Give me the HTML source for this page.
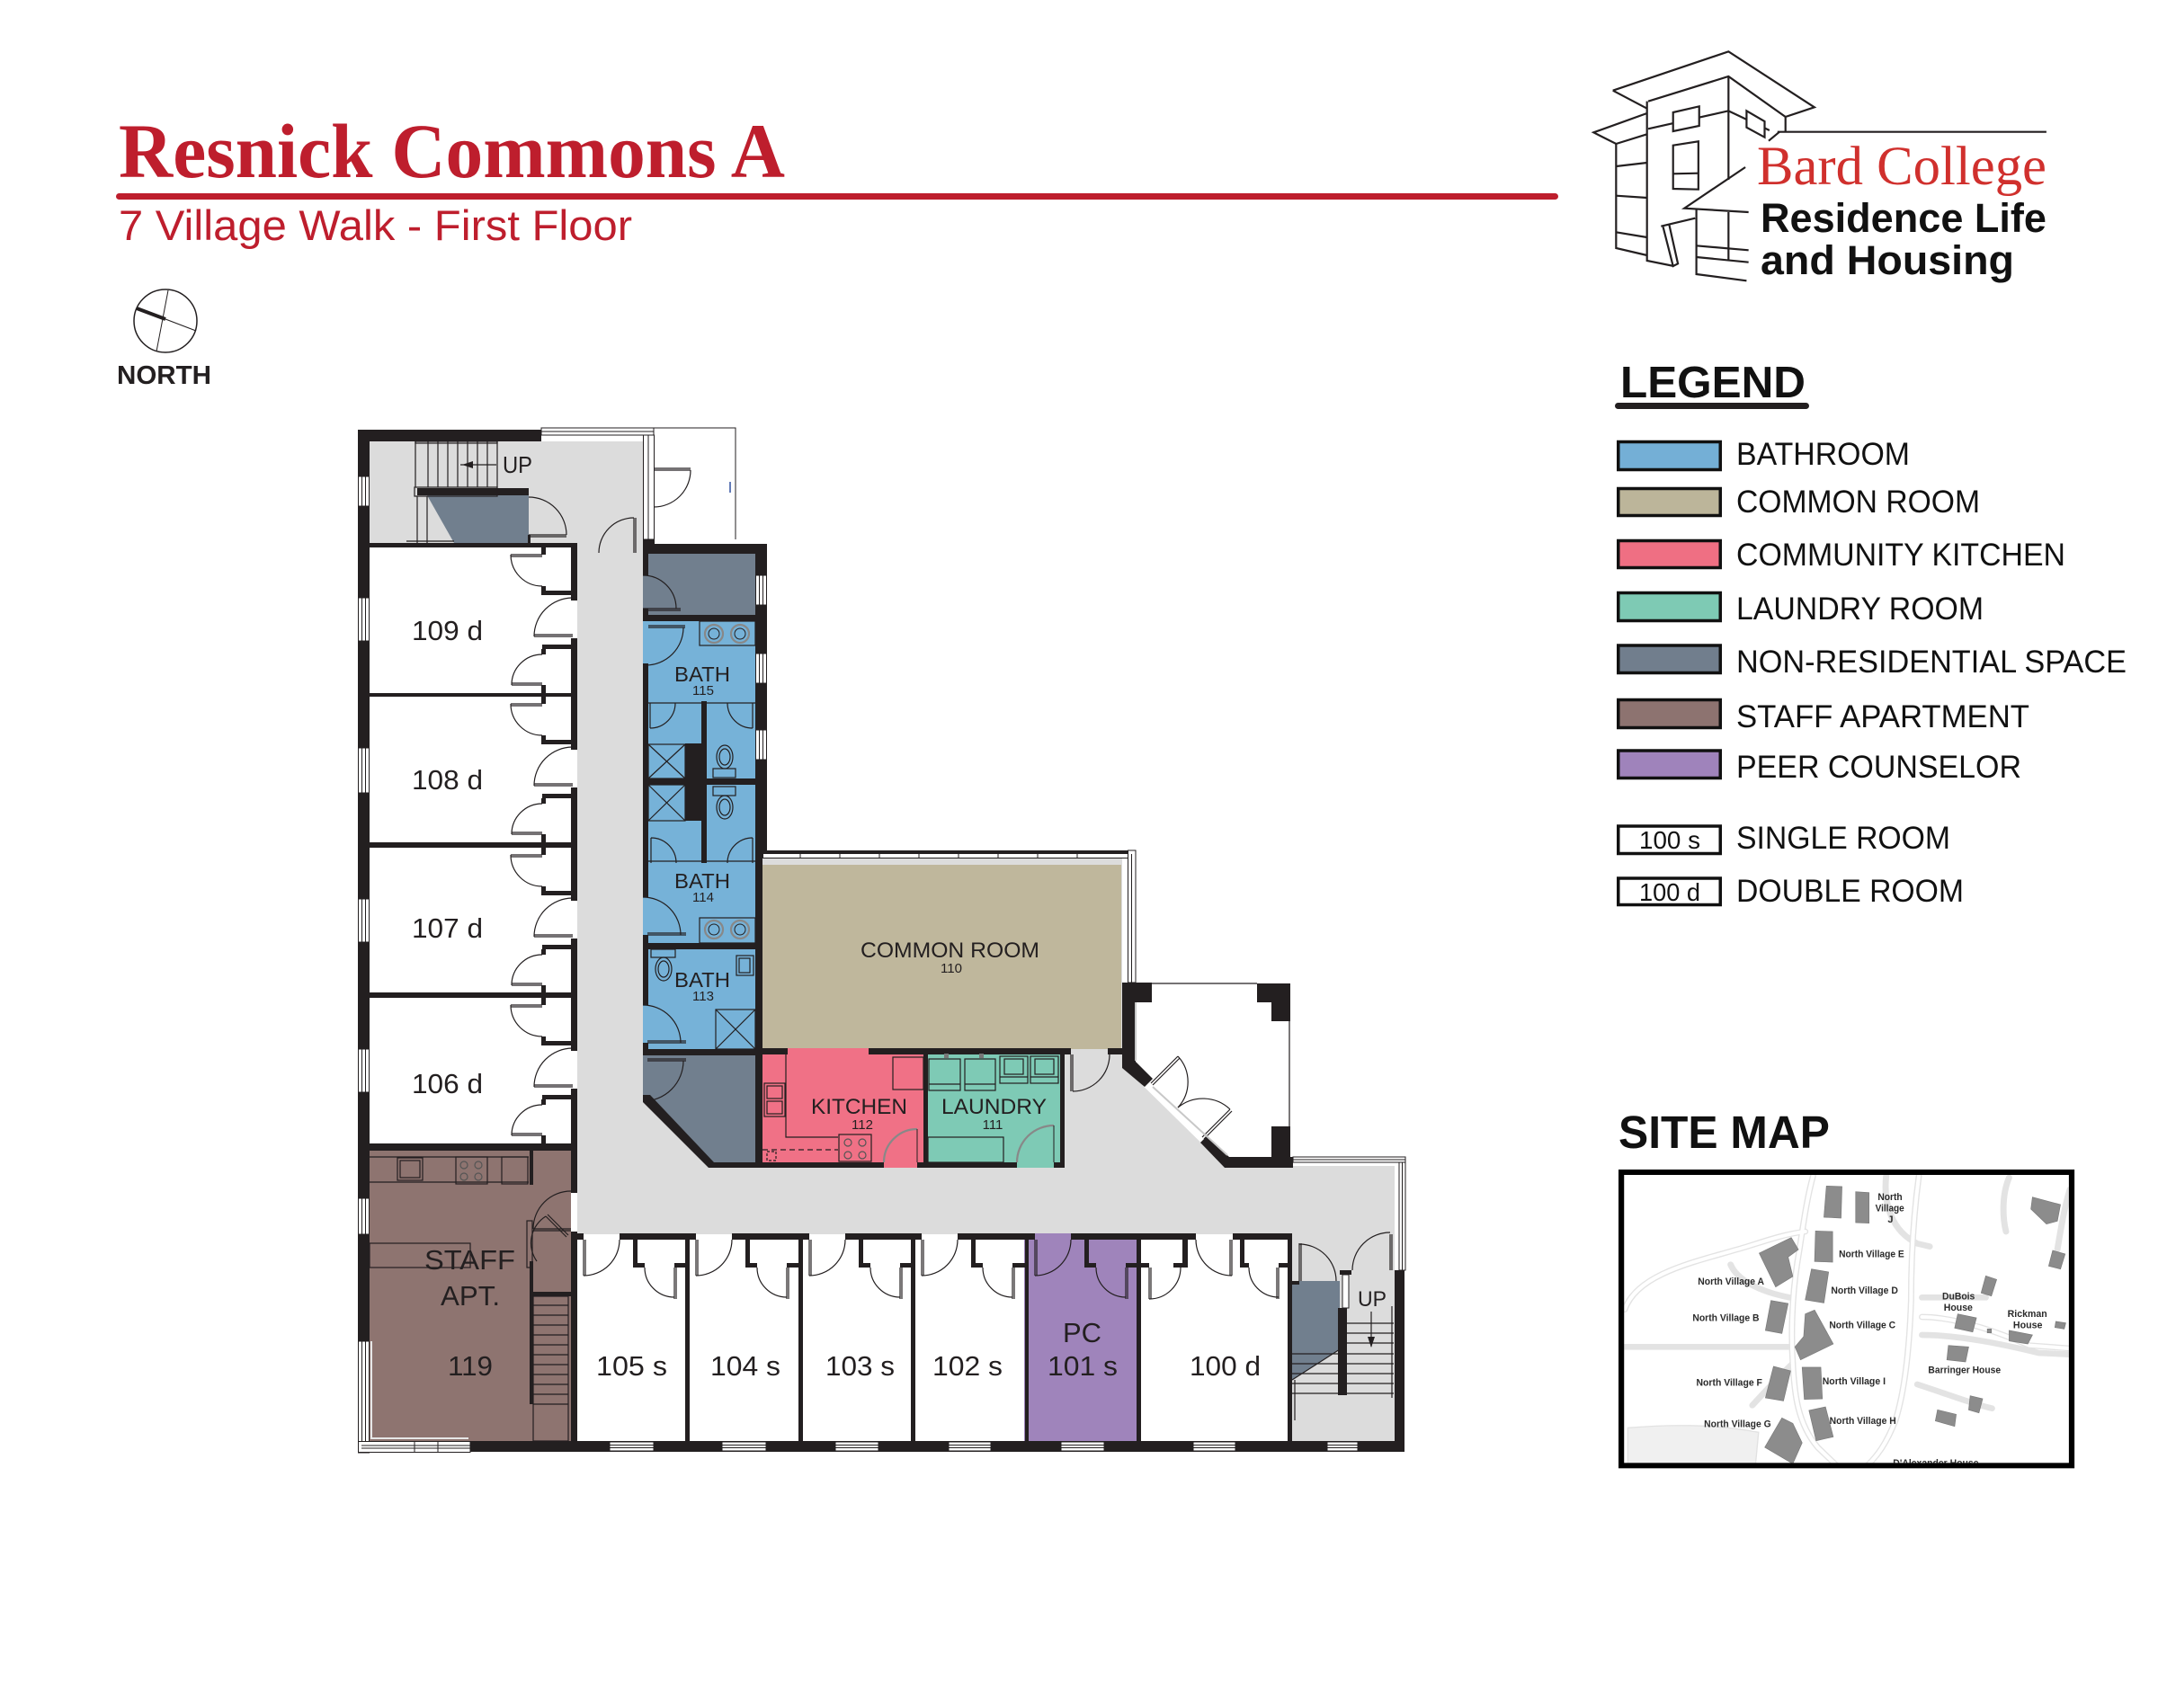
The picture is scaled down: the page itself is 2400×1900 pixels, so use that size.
<!DOCTYPE html>
<html><head><meta charset="utf-8"><style>
html,body{margin:0;padding:0;background:#fff;}
svg{display:block;}
text{font-family:"Liberation Sans",Arial,sans-serif;}
.lg path{vector-effect:non-scaling-stroke;}
</style></head><body>
<svg xmlns="http://www.w3.org/2000/svg" width="2400" height="1900" viewBox="0 0 2400 1900">
<rect width="2400" height="1900" fill="#fff"/>

<!-- HEADER -->
<text x="132" y="197" style="font-family:'Liberation Serif',serif" font-weight="bold" font-size="86" fill="#be1e2d" textLength="741" lengthAdjust="spacingAndGlyphs">Resnick Commons A</text>
<rect x="129" y="215" width="1604" height="7" rx="3.5" fill="#be1e2d"/>
<text x="132" y="267" font-size="47" fill="#be1e2d" textLength="571" lengthAdjust="spacingAndGlyphs">7 Village Walk - First Floor</text>

<!-- compass -->
<circle cx="184" cy="357" r="35" fill="none" stroke="#231f20" stroke-width="1.5"/>
<line x1="187" y1="323" x2="174" y2="391" stroke="#231f20" stroke-width="1"/>
<line x1="152" y1="343" x2="184" y2="355" stroke="#231f20" stroke-width="4"/>
<line x1="184" y1="355" x2="218" y2="368" stroke="#231f20" stroke-width="1.2"/>
<text x="130" y="427" font-weight="bold" font-size="29" fill="#231f20" textLength="105" lengthAdjust="spacingAndGlyphs">NORTH</text>

<!-- LOGO -->
<g class="lg" transform="translate(1700,0) scale(0.44643,0.33333)" fill="none" stroke="#231f20" stroke-width="2.2">
<path d="M210,302 L498,172 L712,358 L640,390 L640,440"/>
<path d="M210,302 L295,362"/>
<path d="M298,338 L498,255 L640,390"/>
<path d="M498,255 L498,600"/>
<path d="M295,338 L295,870 L362,888"/>
<path d="M295,378 L162,442 L218,480 L295,448"/>
<path d="M218,480 L218,828 L295,852"/>
<path d="M218,555 L295,543"/><path d="M218,653 L295,660"/><path d="M218,775 L295,792"/>
<path d="M298,430 L498,370"/>
<path d="M360,375 L425,355 L425,420 L360,438 Z" fill="#fff"/>
<path d="M360,485 L423,472 L423,632 L360,630 Z" fill="#fff"/>
<path d="M360,580 L423,578"/>
<path d="M498,370 L600,435"/>
<path d="M543,370 L588,405 L588,458 L543,425 Z" fill="#fff"/>
<path d="M598,470 L625,440"/>
<path d="M620,440 L1290,440"/>
<path d="M540,558 L388,695 L548,708"/>
<path d="M418,700 L418,915 L543,937"/>
<path d="M498,708 L498,870"/>
<path d="M418,820 L548,835"/><path d="M418,858 L548,875"/>
<path d="M330,755 L415,728"/>
<path d="M335,757 L360,888 L372,880 L350,748"/>
</g>
<text x="1954" y="205" style="font-family:'Liberation Serif',serif" font-size="61" fill="#d0302d" textLength="322" lengthAdjust="spacingAndGlyphs">Bard College</text>
<text x="1958" y="258" font-weight="bold" font-size="45" fill="#111" textLength="318" lengthAdjust="spacingAndGlyphs">Residence Life</text>
<text x="1958" y="305" font-weight="bold" font-size="45" fill="#111" textLength="282" lengthAdjust="spacingAndGlyphs">and Housing</text>

<!-- LEGEND -->
<text x="1802" y="442" font-weight="bold" font-size="49" fill="#111" textLength="206" lengthAdjust="spacingAndGlyphs">LEGEND</text>
<rect x="1796" y="448" width="216" height="7" rx="3.5" fill="#231f20"/>
<g stroke="#111" stroke-width="3.5">
<rect x="1799.75" y="491.5" width="113.5" height="31" fill="#74afd6"/>
<rect x="1799.75" y="543.5" width="113.5" height="30" fill="#bcb59a"/>
<rect x="1799.75" y="601.5" width="113.5" height="30" fill="#ef6f83"/>
<rect x="1799.75" y="659.5" width="113.5" height="31" fill="#7ecab4"/>
<rect x="1799.75" y="718" width="113.5" height="30.5" fill="#717e8d"/>
<rect x="1799.75" y="778.5" width="113.5" height="31" fill="#8d7370"/>
<rect x="1799.75" y="835" width="113.5" height="30.5" fill="#9f83bb"/>
<rect x="1799.75" y="919" width="113.5" height="30.5" fill="#fff"/>
<rect x="1799.75" y="977" width="113.5" height="29.5" fill="#fff"/>
</g>
<g font-size="35" fill="#111">
<text x="1931" y="517" textLength="193" lengthAdjust="spacingAndGlyphs">BATHROOM</text>
<text x="1931" y="570" textLength="271" lengthAdjust="spacingAndGlyphs">COMMON ROOM</text>
<text x="1931" y="629" textLength="366" lengthAdjust="spacingAndGlyphs">COMMUNITY KITCHEN</text>
<text x="1931" y="689" textLength="275" lengthAdjust="spacingAndGlyphs">LAUNDRY ROOM</text>
<text x="1931" y="748" textLength="434" lengthAdjust="spacingAndGlyphs">NON-RESIDENTIAL SPACE</text>
<text x="1931" y="809" textLength="326" lengthAdjust="spacingAndGlyphs">STAFF APARTMENT</text>
<text x="1931" y="865" textLength="317" lengthAdjust="spacingAndGlyphs">PEER COUNSELOR</text>
<text x="1931" y="944" textLength="238" lengthAdjust="spacingAndGlyphs">SINGLE ROOM</text>
<text x="1931" y="1003" textLength="253" lengthAdjust="spacingAndGlyphs">DOUBLE ROOM</text>
</g>
<text x="1823" y="944" font-size="28" fill="#111" textLength="68" lengthAdjust="spacingAndGlyphs">100 s</text>
<text x="1823" y="1002" font-size="28" fill="#111" textLength="68" lengthAdjust="spacingAndGlyphs">100 d</text>

<!-- SITE MAP -->
<text x="1800" y="1277" font-weight="bold" font-size="51" fill="#111" textLength="235" lengthAdjust="spacingAndGlyphs">SITE MAP</text>
<svg x="1800" y="1230" width="540" height="440" viewBox="0 0 1560 1320" preserveAspectRatio="none">
<defs><clipPath id="mc"><rect x="18" y="231" width="1429" height="961"/></clipPath></defs>
<g clip-path="url(#mc)">
<rect x="18" y="231" width="1429" height="961" fill="#fff"/>
<path d="M30,1075 C150,1065 300,1060 450,1090 L440,1200 L30,1200 Z" fill="#f0f0f0" stroke="#e2e2e2" stroke-width="4"/>
<g fill="none" stroke="#e3e3e3" stroke-width="20" stroke-linecap="round">
<path d="M965,235 C950,350 940,500 940,650 C935,800 920,950 890,1050 C860,1130 830,1170 800,1200"/>
<path d="M625,235 C600,330 590,430 575,520 C555,650 555,780 560,860 C565,960 575,1060 640,1140 L700,1200"/>
<path d="M20,680 C60,560 250,520 380,480 C450,460 520,430 600,420"/>
<path d="M10,805 L560,805"/>
<path d="M860,235 C850,330 880,420 960,460 L1000,470"/>
<path d="M975,640 L1180,640"/>
<path d="M975,705 C1100,705 1250,770 1320,800 L1450,810"/>
<path d="M975,765 C1100,765 1250,800 1350,825 L1450,830"/>
<path d="M1255,240 C1230,300 1235,380 1245,420"/>
<path d="M1450,280 C1430,350 1420,420 1410,480"/>
<path d="M430,1000 C500,920 540,880 560,860"/>
<path d="M960,930 C1050,960 1150,1000 1200,1010"/>
<path d="M360,530 C380,580 450,620 550,640"/>
</g>
<g fill="none" stroke="#fff" stroke-width="12" stroke-linecap="round">
<path d="M965,235 C950,350 940,500 940,650 C935,800 920,950 890,1050 C860,1130 830,1170 800,1200"/>
<path d="M625,235 C600,330 590,430 575,520 C555,650 555,780 560,860 C565,960 575,1060 640,1140 L700,1200"/>
<path d="M20,680 C60,560 250,520 380,480 C450,460 520,430 600,420"/>
<path d="M975,705 C1100,705 1250,770 1320,800 L1450,810"/>
</g>
<g fill="#8c8c8c" stroke="#7a7a7a" stroke-width="2">
<polygon points="668,268 718,270 715,375 660,372"/>
<polygon points="762,287 805,290 805,392 762,390"/>
<polygon points="633,418 688,420 688,522 630,520"/>
<polygon points="452,492 555,440 578,480 545,505 560,570 505,605"/>
<polygon points="620,545 675,555 660,658 600,648"/>
<polygon points="490,650 545,660 525,760 472,750"/>
<polygon points="600,695 630,682 690,795 585,848 567,805 595,770"/>
<polygon points="498,870 553,885 530,985 472,975"/>
<polygon points="590,873 650,873 655,978 597,980"/>
<polygon points="612,1017 665,1005 690,1105 635,1118"/>
<polygon points="525,1042 560,1060 590,1125 560,1195 470,1140"/>
<polygon points="1330,305 1420,330 1410,385 1375,395 1325,345"/>
<polygon points="1395,483 1435,495 1420,545 1382,535"/>
<polygon points="1180,568 1215,580 1198,635 1165,625"/>
<polygon points="1090,695 1150,708 1138,755 1080,742"/>
<polygon points="1255,750 1330,765 1315,795 1255,785"/>
<polygon points="1405,720 1437,725 1432,745 1402,740"/>
<polygon points="1060,800 1125,805 1115,855 1055,848"/>
<polygon points="1130,968 1170,978 1158,1025 1125,1015"/>
<polygon points="1025,1015 1085,1030 1080,1070 1018,1052"/>
<rect x="1185" y="745" width="13" height="13"/>
</g>
<g font-weight="bold" font-size="32" fill="#2a2a2a" lengthAdjust="spacingAndGlyphs">
<text x="833" y="315" textLength="79" lengthAdjust="spacingAndGlyphs">North</text>
<text x="825" y="353" textLength="93" lengthAdjust="spacingAndGlyphs">Village</text>
<text x="865" y="390">J</text>
<text x="708" y="505" textLength="210" lengthAdjust="spacingAndGlyphs">North Village E</text>
<text x="255" y="597" textLength="213" lengthAdjust="spacingAndGlyphs">North Village A</text>
<text x="683" y="627" textLength="215" lengthAdjust="spacingAndGlyphs">North Village D</text>
<text x="238" y="718" textLength="214" lengthAdjust="spacingAndGlyphs">North Village B</text>
<text x="677" y="743" textLength="213" lengthAdjust="spacingAndGlyphs">North Village C</text>
<text x="250" y="935" textLength="212" lengthAdjust="spacingAndGlyphs">North Village F</text>
<text x="655" y="930" textLength="203" lengthAdjust="spacingAndGlyphs">North Village I</text>
<text x="275" y="1073" textLength="215" lengthAdjust="spacingAndGlyphs">North Village G</text>
<text x="678" y="1062" textLength="214" lengthAdjust="spacingAndGlyphs">North Village H</text>
<text x="1040" y="647" textLength="105" lengthAdjust="spacingAndGlyphs">DuBois</text>
<text x="1045" y="684" textLength="93" lengthAdjust="spacingAndGlyphs">House</text>
<text x="1250" y="705" textLength="127" lengthAdjust="spacingAndGlyphs">Rickman</text>
<text x="1268" y="742" textLength="94" lengthAdjust="spacingAndGlyphs">House</text>
<text x="995" y="893" textLength="233" lengthAdjust="spacingAndGlyphs">Barringer House</text>
<text x="882" y="1203" textLength="275" lengthAdjust="spacingAndGlyphs">D'Alexander House</text>
</g>
</g>
<rect x="9" y="222" width="1447" height="979" fill="none" stroke="#000" stroke-width="18"/>
</svg>

<!-- ================= FLOOR PLAN ================= -->
<!-- corridor gray -->
<g fill="#dcdcdc">
<rect x="411" y="491" width="304" height="118"/>
<rect x="642" y="600" width="73" height="773"/>
<rect x="642" y="1174" width="206" height="199"/>
<rect x="642" y="1297" width="909" height="76"/>
<rect x="1184" y="1166" width="64" height="133"/>
<polygon points="1248,1185 1364,1299 1248,1299"/>
<rect x="1437" y="1373" width="114" height="230"/>
</g>
<!-- colored rooms -->
<polygon points="475,551 588,551 588,604 505,604" fill="#717f8e"/>
<rect x="715" y="616" width="125" height="68" fill="#717f8e"/>
<rect x="715" y="684" width="125" height="490" fill="#76b2d8"/>
<polygon points="715,1174 840,1174 840,1293 790,1293 721,1222 715,1222" fill="#717f8e"/>
<rect x="848" y="955" width="400" height="212" fill="#dcdcdc"/>
<rect x="848" y="962" width="399" height="205" fill="#bfb79c"/>
<rect x="848" y="1166" width="179" height="133" fill="#f07186"/>
<rect x="1032" y="1173" width="147" height="126" fill="#7ecab5"/>
<rect x="411" y="1280" width="224" height="323" fill="#8e7470"/>
<rect x="1139" y="1372" width="130" height="231" fill="#9f84bb"/>
<polygon points="1437,1425 1490,1425 1490,1501 1437,1535" fill="#717f8e"/>

<!-- thick walls -->
<g fill="#231f20">
<rect x="398" y="478" width="13" height="1014"/>
<rect x="398" y="478" width="204" height="13"/>
<rect x="464" y="543" width="124" height="8"/>
<rect x="411" y="604" width="231" height="5"/>
<rect x="587" y="595" width="3" height="9"/>
<rect x="715" y="600" width="13" height="16"/>
<!-- left room separators -->
<rect x="411" y="771" width="231" height="4"/>
<rect x="411" y="937" width="231" height="6"/>
<rect x="411" y="1104" width="231" height="6"/>
<rect x="398" y="1272" width="244" height="8"/>
<!-- corridor-side walls of left rooms -->
<rect x="635" y="604" width="7" height="64"/><rect x="635" y="710" width="7" height="61"/>
<rect x="635" y="770" width="7" height="64"/><rect x="635" y="876" width="7" height="61"/>
<rect x="635" y="938" width="7" height="64"/><rect x="635" y="1044" width="7" height="61"/>
<rect x="635" y="1105" width="7" height="64"/><rect x="635" y="1211" width="7" height="61"/>
<!-- closets left rooms -->
<rect x="602" y="609" width="5" height="8"/><rect x="602" y="652" width="5" height="10"/><rect x="602" y="657" width="33" height="5"/>
<rect x="603" y="717" width="32" height="5"/><rect x="602" y="722" width="5" height="6"/><rect x="602" y="762" width="5" height="9"/>
<rect x="602" y="775" width="5" height="8"/><rect x="602" y="818" width="5" height="10"/><rect x="602" y="823" width="33" height="5"/>
<rect x="603" y="883" width="32" height="5"/><rect x="602" y="888" width="5" height="6"/><rect x="602" y="928" width="5" height="9"/>
<rect x="602" y="943" width="5" height="8"/><rect x="602" y="986" width="5" height="10"/><rect x="602" y="991" width="33" height="5"/>
<rect x="603" y="1051" width="32" height="5"/><rect x="602" y="1056" width="5" height="6"/><rect x="602" y="1096" width="5" height="8"/>
<rect x="602" y="1110" width="5" height="8"/><rect x="602" y="1153" width="5" height="10"/><rect x="602" y="1158" width="33" height="5"/>
<rect x="603" y="1218" width="32" height="5"/><rect x="602" y="1223" width="5" height="6"/><rect x="602" y="1263" width="5" height="9"/>
<!-- bath block -->
<rect x="715" y="605" width="138" height="11"/>
<rect x="840" y="605" width="13" height="342"/>
<rect x="840" y="947" width="8" height="352"/>
<rect x="715" y="605" width="6" height="35"/>
<rect x="715" y="677" width="6" height="14"/>
<rect x="715" y="738" width="6" height="260"/>
<rect x="715" y="1040" width="6" height="78"/>
<rect x="715" y="1160" width="6" height="14"/>
<rect x="721" y="684" width="119" height="7"/>
<rect x="721" y="866" width="119" height="7"/>
<rect x="721" y="1049" width="119" height="7"/>
<rect x="715" y="1167" width="133" height="7"/>
<polygon points="715,1218 723,1218 794,1293 848,1293 848,1299 788,1299 715,1226"/>
<rect x="762" y="827" width="24" height="86"/>
<rect x="780" y="780" width="6" height="47"/>
<rect x="780" y="913" width="6" height="47"/>
<!-- kitchen / laundry -->
<rect x="840" y="1166" width="36" height="7"/>
<rect x="966" y="1166" width="225" height="7"/>
<rect x="1232" y="1166" width="16" height="7"/>
<rect x="1027" y="1173" width="5" height="120"/>
<rect x="1179" y="1173" width="5" height="126"/>
<rect x="840" y="1293" width="143" height="6"/>
<rect x="1020" y="1293" width="111" height="6"/>
<rect x="1172" y="1293" width="12" height="6"/>
<!-- common room top -->
<rect x="848" y="946" width="415" height="4"/>
<!-- vestibule -->
<rect x="1248" y="1093" width="15" height="94"/>
<rect x="1263" y="1093" width="18" height="22"/>
<rect x="1398" y="1094" width="37" height="21"/>
<rect x="1414" y="1115" width="21" height="21"/>
<rect x="1414" y="1253" width="21" height="34"/>
<polygon points="1248,1180 1262,1180 1282,1200 1273,1209 1248,1188"/>
<polygon points="1335,1271 1362,1299 1438,1299 1438,1287 1367,1287 1342,1264"/>
<!-- staff apt walls -->
<rect x="635" y="1280" width="7" height="47"/>
<rect x="635" y="1370" width="7" height="233"/>
<rect x="589" y="1280" width="4" height="38"/>
<rect x="589" y="1403" width="4" height="37"/>
<rect x="589" y="1437" width="46" height="5"/>
<rect x="589" y="1442" width="4" height="120"/>
<!-- bottom rooms top wall -->
<rect x="635" y="1372" width="14" height="7"/>
<rect x="689" y="1372" width="85" height="7"/>
<rect x="814" y="1372" width="86" height="7"/>
<rect x="940" y="1372" width="85" height="7"/>
<rect x="1065" y="1372" width="86" height="7"/>
<rect x="1191" y="1372" width="139" height="7"/>
<rect x="1371" y="1372" width="66" height="7"/>
<!-- dividers -->
<rect x="762" y="1379" width="5" height="224"/>
<rect x="888" y="1379" width="5" height="224"/>
<rect x="1013" y="1379" width="5" height="224"/>
<rect x="1140" y="1379" width="4" height="224"/>
<rect x="1264" y="1379" width="5" height="224"/>
<rect x="1432" y="1379" width="5" height="224"/>
<!-- bottom room closets -->
<rect x="704" y="1379" width="5" height="31"/><rect x="704" y="1405" width="13" height="5"/><rect x="750" y="1405" width="12" height="5"/>
<rect x="829" y="1379" width="5" height="31"/><rect x="829" y="1405" width="13" height="5"/><rect x="875" y="1405" width="13" height="5"/>
<rect x="955" y="1379" width="5" height="31"/><rect x="955" y="1405" width="13" height="5"/><rect x="1001" y="1405" width="12" height="5"/>
<rect x="1080" y="1379" width="5" height="31"/><rect x="1080" y="1405" width="13" height="5"/><rect x="1126" y="1405" width="14" height="5"/>
<rect x="1206" y="1379" width="5" height="31"/><rect x="1206" y="1405" width="13" height="5"/><rect x="1252" y="1405" width="12" height="5"/>
<rect x="1269" y="1405" width="9" height="5"/><rect x="1315" y="1379" width="6" height="31"/><rect x="1305" y="1405" width="16" height="5"/>
<rect x="1379" y="1379" width="5" height="31"/><rect x="1379" y="1405" width="10" height="5"/><rect x="1422" y="1405" width="10" height="5"/>
<!-- right stair -->
<rect x="1437" y="1425" width="8" height="4"/>
<rect x="1490" y="1413" width="13" height="5"/>
<rect x="1488" y="1455" width="10" height="97"/>
<rect x="1551" y="1413" width="11" height="202"/>
<!-- bottom wall -->
<rect x="523" y="1603" width="1039" height="12"/>
</g>

<!-- windows -->
<g fill="#fff" stroke="#231f20" stroke-width="1">
<rect x="398.5" y="530" width="12" height="33"/>
<rect x="398.5" y="665" width="12" height="48"/>
<rect x="398.5" y="832" width="12" height="50"/>
<rect x="398.5" y="1000" width="12" height="48"/>
<rect x="398.5" y="1167" width="12" height="48"/>
<rect x="398.5" y="1333" width="12" height="40"/>
<rect x="398.5" y="1492" width="12" height="124"/>
<rect x="398.5" y="1603.5" width="124.5" height="12"/>
<rect x="840.5" y="640" width="12" height="33"/>
<rect x="840.5" y="727" width="12" height="33"/>
<rect x="840.5" y="812" width="12" height="33"/>
<rect x="678" y="1604" width="49" height="10"/>
<rect x="803" y="1604" width="49" height="10"/>
<rect x="929" y="1604" width="48" height="10"/>
<rect x="1055" y="1604" width="47" height="10"/>
<rect x="1180" y="1604" width="48" height="10"/>
<rect x="1327" y="1604" width="47" height="10"/>
<rect x="1476" y="1604" width="34" height="10"/>
<rect x="602" y="476" width="125" height="8"/>
<rect x="715.5" y="484" width="12" height="116"/>
<rect x="848.5" y="949.5" width="413" height="5"/>
<rect x="1254.5" y="946" width="8.5" height="147"/>
<rect x="1438" y="1287" width="125" height="6"/>
<rect x="1556" y="1293" width="7" height="120"/>
<rect x="1493" y="1418" width="7" height="37"/>
</g>
<g stroke="#231f20" stroke-width="1" fill="none">
<path d="M402.5,530V563M406.5,530V563M402.5,665V713M406.5,665V713M402.5,832V882M406.5,832V882M402.5,1000V1048M406.5,1000V1048M402.5,1167V1215M406.5,1167V1215M402.5,1333V1373M406.5,1333V1373M402.5,1492V1603M406.5,1492V1603"/>
<path d="M402,1608H523M402,1611H523M461,1603V1615M487,1603V1615"/>
<path d="M844.5,640V673M848.5,640V673M844.5,727V760M848.5,727V760M844.5,812V845M848.5,812V845"/>
<path d="M678,1607.5H727M678,1610.5H727M803,1607.5H852M803,1610.5H852M929,1607.5H977M929,1610.5H977M1055,1607.5H1102M1055,1610.5H1102M1180,1607.5H1228M1180,1610.5H1228M1327,1607.5H1374M1327,1610.5H1374M1476,1607.5H1510M1476,1610.5H1510"/>
<path d="M602,480H727M721,484V600"/>
<path d="M890,950V955M934,950V955M978,950V955M1022,950V955M1066,950V955M1110,950V955M1154,950V955M1198,950V955"/>
<path d="M1258.5,950V1093"/>
<path d="M1438,1290H1563M1559.5,1293V1413"/>
<path d="M727,476H818V600"/>
</g>
<rect x="848" y="955" width="399" height="7" fill="#dcdcdc"/>
<line x1="812" y1="536" x2="812" y2="548" stroke="#3050a0" stroke-width="1.5"/>

<!-- thin line details -->
<g stroke="#231f20" stroke-width="1.2" fill="none">
<!-- top stair -->
<path d="M462,491V542M476,491V542M487,491V542M498,491V542M509,491V542M520,491V542M531,491V542M542,491V542M553,491V542"/>
<rect x="462" y="491" width="91" height="2"/>
<rect x="461" y="542" width="92" height="10"/>
<path d="M464,552V604M475,552V604M452,602H505"/>
<path d="M512,517H552"/>
<path d="M588,553A42,42 0 0 1 630,595"/><path d="M588,595H630M588,597H630"/>
<path d="M666,615A39,39 0 0 1 705,576"/><path d="M705,576V615M707,576V615"/>
<path d="M727,521H768M727,523H768"/><path d="M768,523A41,41 0 0 1 727,564"/>
<!-- left rooms doors -->
<path d="M568,617A35,35 0 0 0 603,652M568,617H603M568,619H603"/>
<path d="M594,708A43,43 0 0 1 637,665M594,708H637M594,706H637"/>
<path d="M603,728A34,34 0 0 0 569,762M569,762H603M569,760H603"/>
<path d="M568,783A35,35 0 0 0 603,818M568,783H603M568,785H603"/>
<path d="M594,874A43,43 0 0 1 637,831M594,874H637M594,872H637"/>
<path d="M603,894A34,34 0 0 0 569,928M569,928H603M569,926H603"/>
<path d="M568,951A35,35 0 0 0 603,986M568,951H603M568,953H603"/>
<path d="M594,1042A43,43 0 0 1 637,999M594,1042H637M594,1040H637"/>
<path d="M603,1062A34,34 0 0 0 569,1096M569,1096H603M569,1094H603"/>
<path d="M568,1118A35,35 0 0 0 603,1153M568,1118H603M568,1120H603"/>
<path d="M594,1209A43,43 0 0 1 637,1166M594,1209H637M594,1207H637"/>
<path d="M603,1229A34,34 0 0 0 569,1263M569,1263H603M569,1261H603"/>
<!-- bath doors -->
<path d="M715,640A37,37 0 0 1 752,677M715,677H757M715,679H757"/>
<path d="M760,698A42,42 0 0 1 718,740M721,698H762M721,696H762"/>
<path d="M715,998A42,42 0 0 1 757,1040M720,1040H763M720,1038H763"/>
<path d="M715,1118A42,42 0 0 1 757,1160M720,1160H763M720,1158H763"/>
<path d="M760,1180A45,45 0 0 1 715,1225M720,1180H763M720,1178H763"/>
<!-- bath fixtures -->
<rect x="778" y="691" width="62" height="27"/>
<rect x="778" y="1021" width="62" height="28"/>
<path d="M721,782H780M786,782H840M751,782A28,28 0 0 1 723,810M723,782V810M809,782A28,28 0 0 0 837,810M837,782V810"/>
<path d="M721,958H780M786,958H840M724,932A28,28 0 0 1 752,960M724,932V960M837,932A28,28 0 0 0 809,960M837,932V960"/>
<rect x="721" y="828" width="41" height="38"/><path d="M721,828L762,866M762,828L721,866"/>
<rect x="721" y="873" width="41" height="40"/><path d="M721,873L762,913M762,873L721,913"/>
<rect x="793" y="855" width="25" height="10"/><ellipse cx="806" cy="842" rx="9" ry="13"/><ellipse cx="806" cy="842" rx="6" ry="9"/>
<rect x="793" y="875" width="25" height="10"/><ellipse cx="806" cy="898" rx="9" ry="13"/><ellipse cx="806" cy="898" rx="6" ry="9"/>
<rect x="724" y="1056" width="27" height="9"/><ellipse cx="738" cy="1078" rx="9" ry="13"/><ellipse cx="738" cy="1078" rx="6" ry="9"/>
<rect x="819" y="1063" width="19" height="22"/><rect x="822" y="1066" width="12" height="16"/>
<rect x="796" y="1123" width="44" height="44"/><path d="M796,1123L840,1167M840,1123L796,1167"/>
<!-- kitchen -->
<rect x="993" y="1176" width="34" height="36"/>
<path d="M874,1173V1265H932"/>
<rect x="850" y="1205" width="23" height="37"/>
<rect x="853" y="1208" width="17" height="14"/><rect x="853" y="1225" width="17" height="14"/>
<rect x="933" y="1262" width="36" height="30"/>
<path d="M848,1279H932" stroke-dasharray="6 4"/>
<rect x="853" y="1281" width="10" height="10" stroke-dasharray="3 2"/>
<!-- laundry -->
<rect x="1033" y="1178" width="35" height="35"/><rect x="1073" y="1178" width="34" height="35"/>
<rect x="1112" y="1175" width="31" height="30"/><rect x="1146" y="1175" width="31" height="30"/>
<rect x="1117" y="1178" width="21" height="17"/><rect x="1151" y="1178" width="21" height="17"/>
<path d="M1033,1206H1068M1073,1206H1107M1112,1198H1143M1146,1198H1177"/>
<rect x="1032" y="1265" width="84" height="28"/>
<!-- common door -->
<path d="M1193,1214A41,41 0 0 0 1234,1173M1191,1173V1214M1193,1173V1214"/>
<!-- vestibule -->
<path d="M1281,1094H1398M1434,1136V1253"/>
<path d="M1280,1205L1310,1175M1282,1207L1312,1177M1310,1175A42,42 0 0 1 1310,1232"/>
<path d="M1337,1265L1368,1234M1339,1267L1370,1236M1368,1234A44,44 0 0 0 1310,1232"/>
<!-- bottom rooms doors -->
<path d="M649,1379V1419M651,1379V1419M649,1419A40,40 0 0 0 689,1379M717,1410A33,33 0 0 0 750,1443M750,1410V1445M752,1410V1445"/>
<path d="M774,1379V1419M776,1379V1419M774,1419A40,40 0 0 0 814,1379M842,1410A33,33 0 0 0 875,1443M875,1410V1445M877,1410V1445"/>
<path d="M900,1379V1419M902,1379V1419M900,1419A40,40 0 0 0 940,1379M968,1410A33,33 0 0 0 1001,1443M1001,1410V1445M1003,1410V1445"/>
<path d="M1025,1379V1419M1027,1379V1419M1025,1419A40,40 0 0 0 1065,1379M1093,1410A33,33 0 0 0 1126,1443M1126,1410V1445M1128,1410V1445"/>
<path d="M1151,1379V1419M1153,1379V1419M1151,1419A40,40 0 0 0 1191,1379M1219,1410A33,33 0 0 0 1252,1443M1252,1410V1445M1254,1410V1445"/>
<path d="M1278,1410V1445M1280,1410V1445M1278,1445A35,35 0 0 0 1313,1410"/>
<path d="M1330,1379A40,40 0 0 0 1370,1419M1370,1379V1419M1368,1379V1419"/>
<path d="M1389,1410A33,33 0 0 0 1422,1443M1422,1410V1445M1420,1410V1445"/>
<!-- right stair -->
<path d="M1445,1384A41,41 0 0 1 1486,1425M1445,1383V1425M1447,1383V1425"/>
<path d="M1546,1371A42,42 0 0 0 1504,1413M1546,1373V1413M1548,1373V1413"/>
<path d="M1498,1472H1550M1498,1483H1550M1498,1494H1550M1498,1506H1550M1498,1517H1550M1498,1528H1550M1498,1539H1550M1498,1550H1550"/>
<path d="M1437,1506H1488M1437,1517H1488M1437,1528H1488M1437,1539H1488M1437,1550H1488"/>
<path d="M1437,1535L1490,1501"/>
<path d="M1548,1453V1555M1440,1535V1580"/>
<path d="M1525,1459V1498"/>
<!-- staff apt -->
<path d="M411,1287H588M411,1315H588"/>
<rect x="442" y="1288" width="28" height="25"/><rect x="445" y="1291" width="22" height="19"/>
<rect x="507" y="1287" width="35" height="30"/>
<rect x="558" y="1287" width="29" height="30"/>
<path d="M593,1367A42,42 0 0 1 635,1325M593,1367H635M593,1369H635"/>
<path d="M607,1353L630,1376M609,1351L632,1374M607,1353A35,35 0 0 0 597,1403"/>
<rect x="411" y="1383" width="112" height="27"/>
<rect x="593" y="1442" width="39" height="161"/>
<path d="M593,1452H632M593,1463H632M593,1474H632M593,1485H632M593,1496H632M593,1507H632M593,1518H632M593,1529H632M593,1540H632M593,1551H632M593,1562H632"/>
<rect x="586" y="1358" width="6" height="52"/>
</g>
<path d="M413,1492V1600H521" stroke="#e6e6e6" stroke-width="2" fill="none"/>
<path d="M1263,1115V1180M1282,1209L1365,1285" stroke="#c8c8c8" stroke-width="2" fill="none"/>
<!-- fixture circles -->
<g fill="none" stroke="#888" stroke-width="2.2">
<circle cx="794" cy="705" r="10"/><circle cx="823" cy="705" r="10"/>
<circle cx="794" cy="1034" r="10"/><circle cx="823" cy="1034" r="10"/>
<path d="M983,1293A37,37 0 0 1 1020,1256"/>
<path d="M1131,1293A41,41 0 0 1 1172,1252"/>
</g>
<g fill="none" stroke="#231f20" stroke-width="1">
<circle cx="794" cy="705" r="6"/><circle cx="823" cy="705" r="6"/>
<circle cx="794" cy="1034" r="6"/><circle cx="823" cy="1034" r="6"/>
<path d="M1020,1256V1293M1172,1252V1293"/>
</g>
<g fill="none" stroke="#555" stroke-width="1.2">
<circle cx="943" cy="1271" r="4"/><circle cx="959" cy="1271" r="4"/><circle cx="943" cy="1285" r="4"/><circle cx="959" cy="1285" r="4"/>
<circle cx="516" cy="1296" r="4"/><circle cx="532" cy="1296" r="4"/><circle cx="516" cy="1309" r="4"/><circle cx="532" cy="1309" r="4"/>
</g>
<rect x="1050" y="1172" width="5" height="5" fill="#777"/><rect x="1089" y="1172" width="5" height="5" fill="#777"/>
<polygon points="514,517 526,513 526,521" fill="#231f20"/>
<polygon points="1525,1499 1521,1487 1529,1487" fill="#231f20"/>

<!-- room labels -->
<g font-size="31" fill="#231f20">
<text x="458" y="712" textLength="79" lengthAdjust="spacingAndGlyphs">109 d</text>
<text x="458" y="878" textLength="79" lengthAdjust="spacingAndGlyphs">108 d</text>
<text x="458" y="1043" textLength="79" lengthAdjust="spacingAndGlyphs">107 d</text>
<text x="458" y="1216" textLength="79" lengthAdjust="spacingAndGlyphs">106 d</text>
<text x="663" y="1530" textLength="79" lengthAdjust="spacingAndGlyphs">105 s</text>
<text x="790" y="1530" textLength="78" lengthAdjust="spacingAndGlyphs">104 s</text>
<text x="918" y="1530" textLength="77" lengthAdjust="spacingAndGlyphs">103 s</text>
<text x="1037" y="1530" textLength="78" lengthAdjust="spacingAndGlyphs">102 s</text>
<text x="1165" y="1530" textLength="78" lengthAdjust="spacingAndGlyphs">101 s</text>
<text x="1182" y="1493" textLength="43" lengthAdjust="spacingAndGlyphs">PC</text>
<text x="1323" y="1530" textLength="79" lengthAdjust="spacingAndGlyphs">100 d</text>
<text x="472" y="1412" textLength="101" lengthAdjust="spacingAndGlyphs">STAFF</text>
<text x="490" y="1452" textLength="66" lengthAdjust="spacingAndGlyphs">APT.</text>
<text x="498" y="1530" textLength="50" lengthAdjust="spacingAndGlyphs">119</text>
</g>
<g font-size="23" fill="#231f20">
<text x="750" y="758" textLength="62" lengthAdjust="spacingAndGlyphs">BATH</text>
<text x="750" y="988" textLength="62" lengthAdjust="spacingAndGlyphs">BATH</text>
<text x="750" y="1098" textLength="62" lengthAdjust="spacingAndGlyphs">BATH</text>
<text x="957" y="1065" font-size="24" textLength="199" lengthAdjust="spacingAndGlyphs">COMMON ROOM</text>
<text x="902" y="1239" font-size="24" textLength="107" lengthAdjust="spacingAndGlyphs">KITCHEN</text>
<text x="1047" y="1239" font-size="24" textLength="117" lengthAdjust="spacingAndGlyphs">LAUNDRY</text>
<text x="559" y="526" font-size="26" textLength="33" lengthAdjust="spacingAndGlyphs">UP</text>
<text x="1510" y="1453" font-size="24" textLength="32" lengthAdjust="spacingAndGlyphs">UP</text>
</g>
<g font-size="15" fill="#231f20" text-anchor="middle">
<text x="782" y="773">115</text>
<text x="782" y="1003">114</text>
<text x="782" y="1113">113</text>
<text x="1058" y="1082">110</text>
<text x="959" y="1256">112</text>
<text x="1104" y="1256">111</text>
</g>
</svg>
</body></html>
